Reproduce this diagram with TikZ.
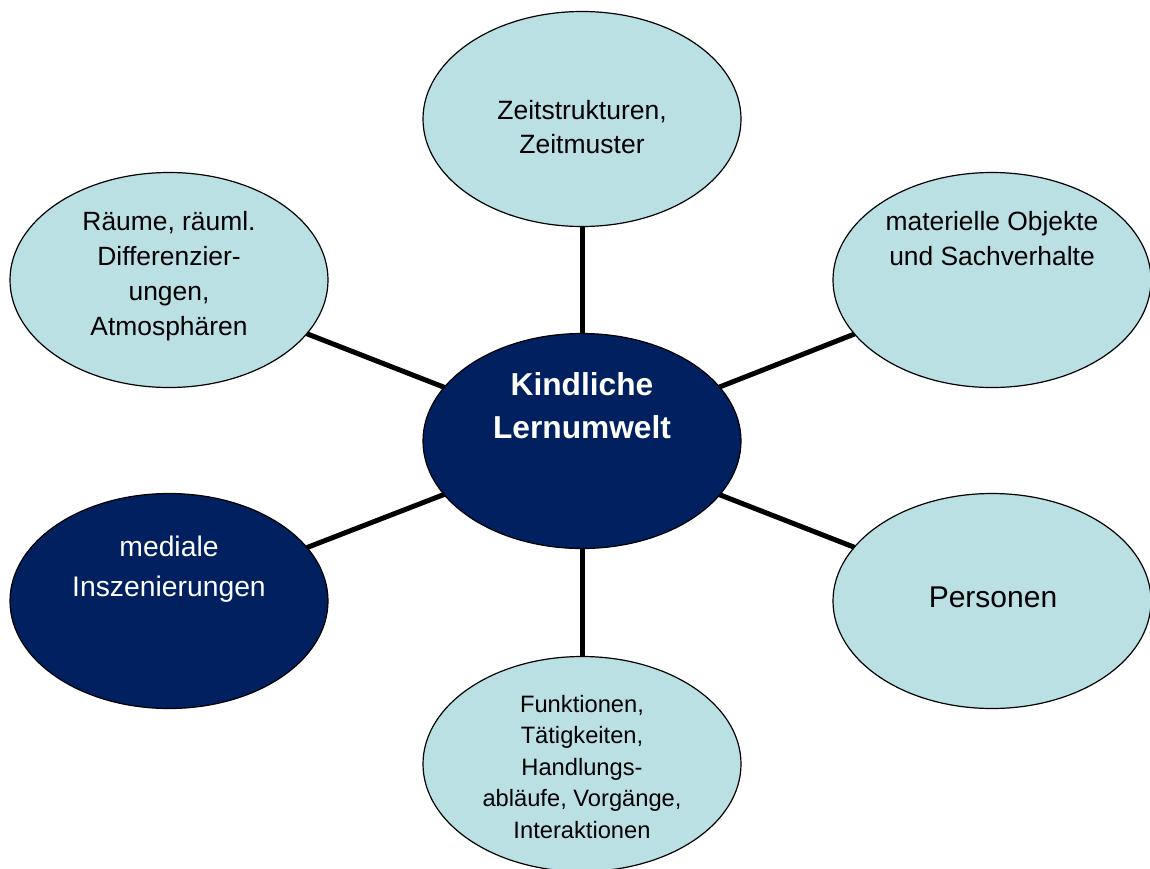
\documentclass[tikz,border=0pt]{standalone}
\usepackage{fontspec}
\setmainfont{Liberation Sans}
\usetikzlibrary{shapes.geometric}
\definecolor{lightfill}{RGB}{186,224,227}
\definecolor{darkfill}{RGB}{0,32,96}
\tikzset{
  bubble/.style={ellipse, draw=black, line width=1.2pt, inner sep=0pt, outer sep=0pt,
    minimum width=318pt, minimum height=215pt},
  lightbubble/.style={bubble, fill=lightfill},
  darkbubble/.style={bubble, fill=darkfill},
  spoke/.style={line width=5pt, draw=black},
  lbl/.style={align=center, anchor=base, inner sep=0pt, text=black},
  darklbl/.style={lbl, text=white},
}
\begin{document}
\begin{tikzpicture}[x=1pt,y=-1pt]
\useasboundingbox (0,0) rectangle (1150,868);
% bubbles
\node[darkbubble] (c)  at (582,441) {};
\node[lightbubble] (t)  at (582,119) {};
\node[lightbubble] (tl) at (169,280) {};
\node[lightbubble] (tr) at (992,280) {};
\node[darkbubble]  (bl) at (169,601) {};
\node[lightbubble] (r)  at (992,601) {};
\node[lightbubble] (b)  at (582,764) {};
% spokes
\draw[spoke] (c) -- (t);
\draw[spoke] (c) -- (tl);
\draw[spoke] (c) -- (tr);
\draw[spoke] (c) -- (bl);
\draw[spoke] (c) -- (r);
\draw[spoke] (c) -- (b);
% texts (anchor base = baseline of the last line)
\node[darklbl, font=\bfseries\fontsize{31.7}{43}\selectfont] (ct) at (582,438) {Kindliche\\Lernumwelt};
\node[lbl, font=\fontsize{26.5}{34}\selectfont] (tt) at (582,153) {Zeitstrukturen,\\Zeitmuster};
\node[lbl, font=\fontsize{26.4}{35}\selectfont] (tlt) at (169,335) {Räume, räuml.\\Differenzier-\\ungen,\\Atmosphären};
\node[lbl, font=\fontsize{26.4}{35}\selectfont] (trt) at (992,265) {materielle Objekte\\und Sachverhalte};
\node[darklbl, font=\fontsize{28.3}{40}\selectfont] (blt) at (169,596) {mediale\\Inszenierungen};
\node[lbl, font=\fontsize{30}{36}\selectfont] (rt) at (993,607) {Personen};
\node[lbl, font=\fontsize{23.7}{31.5}\selectfont] (bt) at (582,838) {Funktionen,\\Tätigkeiten,\\Handlungs-\\abläufe, Vorgänge,\\Interaktionen};
\end{tikzpicture}
\end{document}
